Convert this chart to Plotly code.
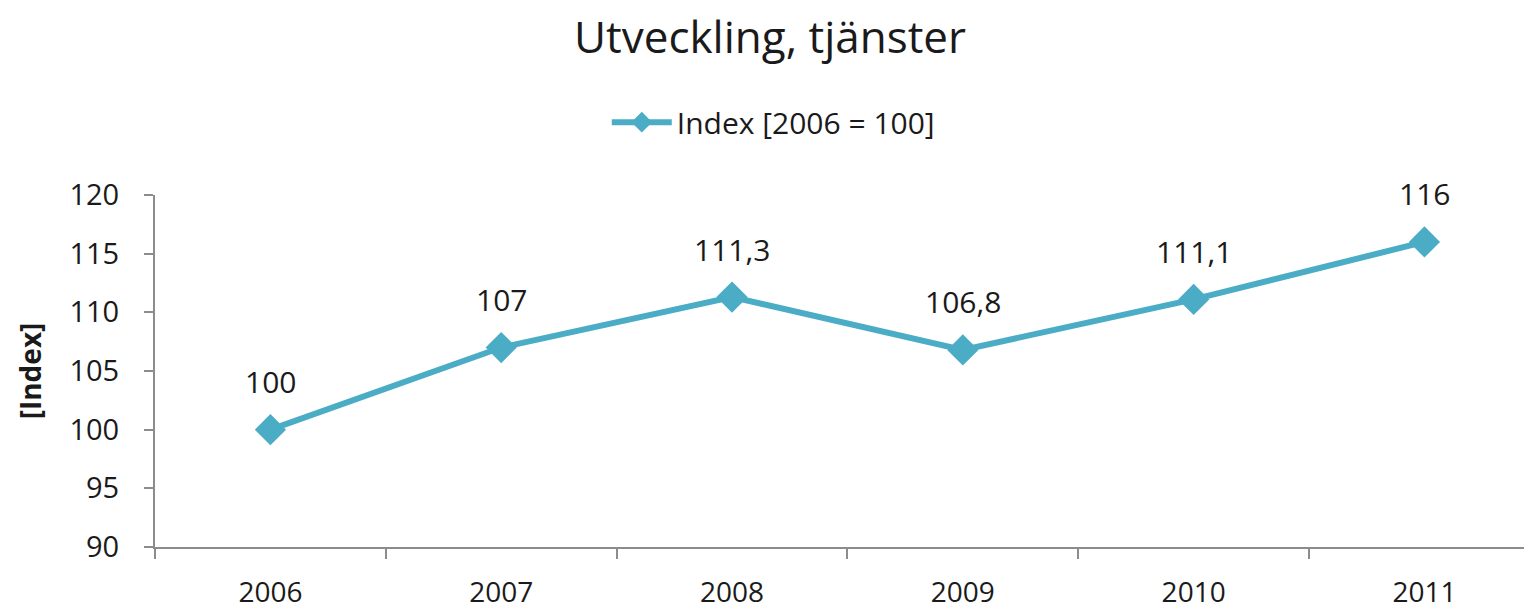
import plotly.graph_objects as go

years = ["2006", "2007", "2008", "2009", "2010", "2011"]
index_values = [100, 107, 111.3, 106.8, 111.1, 116]
series_name = "Index [2006 = 100]"
y_ticks = [90, 95, 100, 105, 110, 115, 120]

FONT = "'Open Sans', 'Noto Sans', sans-serif"
COLOR = "#4BACC6"
AXIS = "#8C8C8C"
TXT = "#1a1a1a"

labels = [("%g" % v).replace(".", ",") for v in index_values]

fig = go.Figure()
fig.add_trace(go.Scatter(
    x=years, y=index_values, name=series_name, mode="lines+markers",
    line=dict(color=COLOR, width=6),
    marker=dict(symbol="diamond", size=24, color=COLOR),
))
for i, (v, t) in enumerate(zip(index_values, labels)):
    fig.add_annotation(x=i, y=v, xref="x", yref="y", text=t, showarrow=False, yshift=48,
                       font=dict(family=FONT, size=30, color=TXT))

fig.update_layout(
    width=1524, height=604,
    paper_bgcolor="white", plot_bgcolor="white",
    margin=dict(l=147, r=0, t=187, b=65, autoexpand=False),
    title=dict(text="Utveckling, tjänster", x=0.5, xanchor="center", y=0.951, yanchor="middle",
               font=dict(family=FONT, size=44, color=TXT)),
    showlegend=True,
    legend=dict(orientation="h", x=0.449, xanchor="center", y=1.207, yanchor="middle",
                font=dict(family=FONT, size=30, color=TXT), itemwidth=60),
    font=dict(family=FONT, color=TXT),
)
fig.update_xaxes(
    type="category", range=[-0.5, 5.466], tickson="boundaries",
    showline=True, linecolor=AXIS, linewidth=2, ticks="outside", ticklen=10, tickcolor=AXIS, tickwidth=2,
    showgrid=False, zeroline=False, tickfont=dict(family=FONT, size=28, color=TXT),
    ticklabelstandoff=19,
)
fig.update_yaxes(
    range=[90, 120], tickvals=y_ticks, showline=True, linecolor=AXIS, linewidth=2,
    ticks="outside", ticklen=9, tickcolor=AXIS, tickwidth=2, showgrid=False, zeroline=False,
    tickfont=dict(family=FONT, size=29, color=TXT), ticklabelstandoff=19,
    title=dict(text="<b>[Index]</b>", font=dict(family=FONT, size=28, color=TXT), standoff=20),
)

fig.write_html("out.html")
